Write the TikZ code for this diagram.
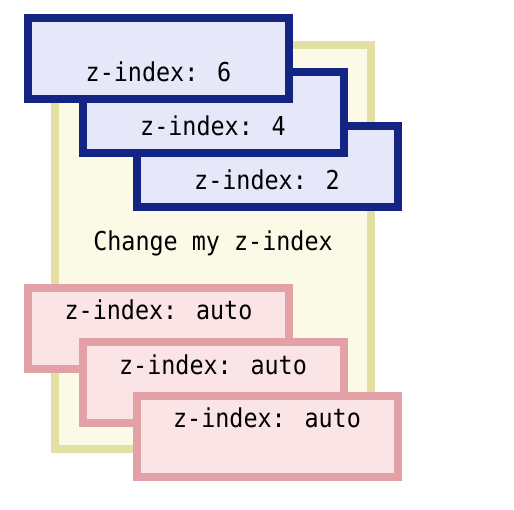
\documentclass[tikz,border=0pt]{standalone}
\usepackage{fontspec}
\newfontfamily\boxfont[FakeStretch=0.9]{DejaVu Sans Mono}
\definecolor{navyb}{HTML}{142485}
\definecolor{lavb}{HTML}{E6E8FA}
\definecolor{pinkb}{HTML}{E2A0A7}
\definecolor{pinkf}{HTML}{FAE4E6}
\definecolor{yelb}{HTML}{E4E0A4}
\definecolor{yelf}{HTML}{FAFAE6}
\tikzset{
  boxbase/.style={rectangle, inner sep=0pt, line width=8pt, minimum width=261pt, minimum height=81pt},
  bluebox/.style={boxbase, draw=navyb, fill=lavb},
  pinkbox/.style={boxbase, draw=pinkb, fill=pinkf},
  yelbox/.style={rectangle, inner sep=0pt, line width=8pt, draw=yelb, fill=yelf, minimum width=316pt, minimum height=404pt},
  lbl/.style={anchor=base, inner sep=0pt, font=\boxfont\fontsize{26pt}{28pt}\selectfont, text=black}
}
\begin{document}
\begin{tikzpicture}[x=1pt,y=-1pt]
\useasboundingbox (0,0) rectangle (514,510);
\node[yelbox] (yel) at (213,247) {};
\node[lbl] (ty) at (213,251) {Change my z-index};
\node[bluebox] (b2) at (267,166.5) {};
\node[lbl] (t2) at (267,190) {z-index: 2};
\node[bluebox] (b4) at (213,112.5) {};
\node[lbl] (t4) at (213,136) {z-index: 4};
\node[bluebox] (b6) at (158.5,58.5) {};
\node[lbl] (t6) at (158.5,82) {z-index: 6};
\node[pinkbox] (p1) at (158.5,328.5) {};
\node[lbl] (q1) at (158.5,320) {z-index: auto};
\node[pinkbox] (p2) at (213,382.5) {};
\node[lbl] (q2) at (213,374) {z-index: auto};
\node[pinkbox] (p3) at (267,436.5) {};
\node[lbl] (q3) at (267,428) {z-index: auto};
\end{tikzpicture}
\end{document}
